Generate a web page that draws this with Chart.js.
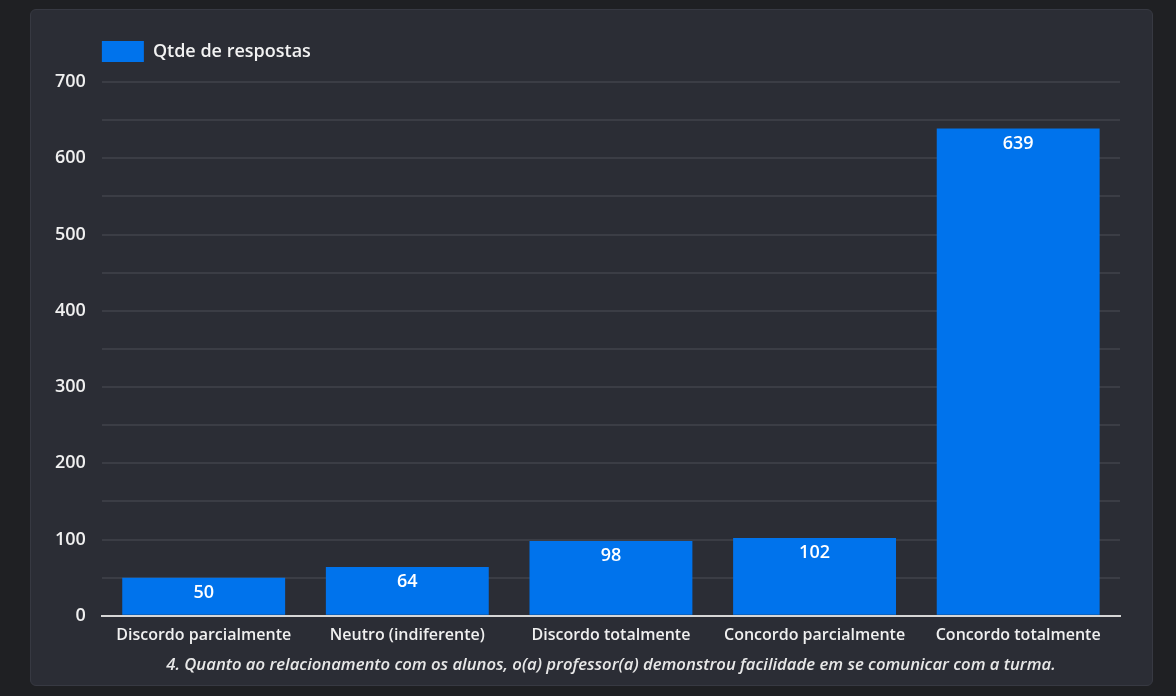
<!DOCTYPE html>
<html>
<head>
<meta charset="utf-8">
<script src="https://cdn.jsdelivr.net/npm/chart.js@4"></script>
<style>
  html, body { margin: 0; padding: 0; background: #1f2023; }
  body { width: 1176px; height: 696px; position: relative; overflow: hidden; }
  .card {
    position: absolute; left: 30px; top: 9px; width: 1121px; height: 675px;
    background: #2b2d35; border: 1px solid #373942; border-radius: 6px;
  }
  .wrap { position: absolute; left: 0; top: 0; width: 1121px; height: 675px; }
</style>
</head>
<body>
<div class="card">
  <div class="wrap"><canvas id="chart"></canvas></div>
</div>
<script>
const categories = ["Discordo parcialmente", "Neutro (indiferente)", "Discordo totalmente", "Concordo parcialmente", "Concordo totalmente"];
const respostas = [50, 64, 98, 102, 639];
const seriesName = "Qtde de respostas";
const axisTitle = "4. Quanto ao relacionamento com os alunos, o(a) professor(a) demonstrou facilidade em se comunicar com a turma.";
const yMax = 700;
const yStep = 50;

const FONT = "'Open Sans', sans-serif";

// value printed near the top inside each bar
const barLabels = {
  id: "barLabels",
  afterDatasetsDraw(chart) {
    const ctx = chart.ctx;
    const meta = chart.getDatasetMeta(0);
    ctx.save();
    ctx.fillStyle = "#ffffff";
    ctx.font = "600 18px " + FONT;
    ctx.textAlign = "center";
    ctx.textBaseline = "middle";
    meta.data.forEach((bar, i) => {
      ctx.fillText(String(respostas[i]), bar.x, bar.y + 15);
    });
    ctx.restore();
  }
};

// legend sits over the plot area, with some room under it
const legendPlace = {
  id: "legendPlace",
  beforeInit(chart) {
    const fit = chart.legend.fit;
    chart.legend.fit = function () {
      fit.call(this);
      this.height += 10;
    };
  },
  afterLayout(chart) {
    const lg = chart.legend;
    const shift = chart.chartArea.left - lg.left - 10;
    lg.left += shift;
    lg.right += shift;
  }
};

new Chart(document.getElementById("chart"), {
  type: "bar",
  data: {
    labels: categories,
    datasets: [{
      label: seriesName,
      data: respostas,
      backgroundColor: "#0073ec",
      borderWidth: 0,
      barPercentage: 1,
      categoryPercentage: 0.8
    }]
  },
  options: {
    responsive: true,
    maintainAspectRatio: false,
    animation: false,
    layout: { padding: { left: 8, right: 32, top: 21, bottom: 10 } },
    plugins: {
      legend: {
        display: true,
        align: "start",
        labels: {
          boxWidth: 42,
          boxHeight: 21,
          color: "#f2f2f2",
          font: { family: FONT, size: 18, weight: "600" },
          padding: 10
        }
      },
      tooltip: { enabled: false }
    },
    scales: {
      x: {
        grid: { display: false },
        border: { color: "#d6d6d6", width: 2 },
        ticks: { color: "#f0f0f0", font: { family: FONT, size: 16, weight: "600" }, padding: 2 },
        title: {
          display: true,
          text: axisTitle,
          color: "#e8e8e8",
          font: { family: FONT, size: 16.7, style: "italic", weight: "600" },
          padding: { top: 8, bottom: 0 }
        }
      },
      y: {
        min: 0,
        max: yMax,
        grid: { color: "#3b3d45", lineWidth: 2, drawTicks: false },
        border: { display: false },
        ticks: {
          stepSize: yStep,
          color: "#f0f0f0",
          font: { family: FONT, size: 18, weight: "600" },
          padding: 16,
          callback: (v) => (v % 100 === 0 ? v : "")
        }
      }
    }
  },
  plugins: [barLabels, legendPlace]
});
</script>
</body>
</html>
